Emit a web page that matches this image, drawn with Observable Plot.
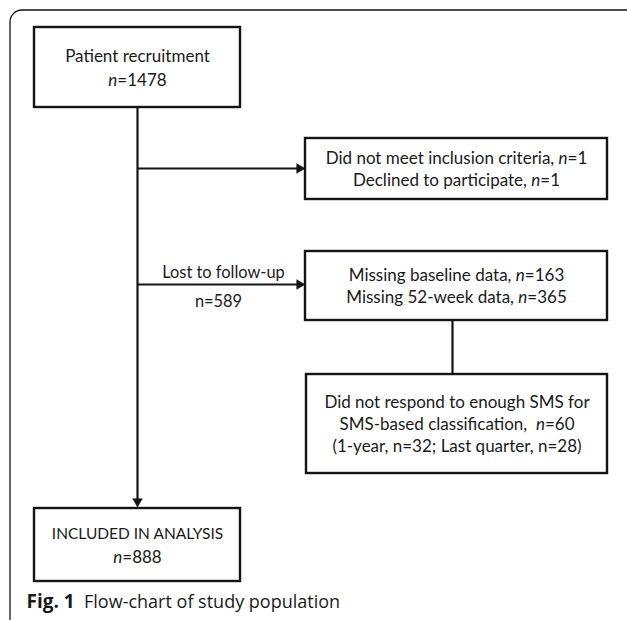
<!DOCTYPE html>
<html>
<head>
<meta charset="utf-8">
<script src="https://cdn.jsdelivr.net/npm/d3@7"></script>
<script src="https://cdn.jsdelivr.net/npm/@observablehq/plot@0.6"></script>
<style>
  html, body { margin: 0; padding: 0; background: #fff; }
  svg text { font-family: Lato, sans-serif; }
</style>
</head>
<body>
<div id="chart"></div>
<script>
// Flow-chart nodes (layout in pixels of the 627x620 figure)
const nodes = [
  {id: "recruit",  x1: 34,  x2: 240, y1: 27,  y2: 107, gap: 24, sizes: [17, 17],       lines: ["Patient recruitment", "*n*=1478"]},
  {id: "excluded", x1: 305, x2: 607, y1: 138, y2: 199, gap: 22, sizes: [17, 17],       lines: ["Did not meet inclusion criteria, *n*=1", "Declined to participate, *n*=1"]},
  {id: "missing",  x1: 305, x2: 607, y1: 251, y2: 320, gap: 22, sizes: [17, 17],       lines: ["Missing baseline data, *n*=163", "Missing 52-week data, *n*=365"]},
  {id: "sms",      x1: 306, x2: 607, y1: 374, y2: 473, gap: 22, sizes: [17, 17, 17],   lines: ["Did not respond to enough SMS for", "SMS-based classification,  *n*=60", "(1-year, n=32; Last quarter, n=28)"]},
  {id: "included", x1: 34,  x2: 240, y1: 508, y2: 581, gap: 24, sizes: [15.5, 17],     lines: ["INCLUDED IN ANALYSIS", "*n*=888"]}
];
// connectors
const edges = [
  {x1: 137, y1: 107, x2: 137, y2: 500, head: "down"},
  {x1: 137, y1: 168, x2: 298, y2: 168, head: "right"},
  {x1: 137, y1: 284, x2: 298, y2: 284, head: "right"},
  {x1: 452, y1: 320, x2: 452, y2: 374, head: null}
];
// edge labels
const edgeLabels = [
  {x: 223, y: 272.5, text: "Lost to follow-up"},
  {x: 218, y: 301, text: "n=589"}
];
const caption = "^Fig. 1^  Flow-chart of study population";

// derived text rows
const textRows = nodes.flatMap(n => {
  const cy = (n.y1 + n.y2) / 2 + 1;
  const k = n.lines.length;
  return n.lines.map((t, i) => ({x: (n.x1 + n.x2) / 2, y: cy + (i - (k - 1) / 2) * n.gap, text: t, size: n.sizes[i]}));
});
const heads = edges.filter(e => e.head).map(e => ({
  x: e.head === "right" ? e.x2 + 1 : e.x2,
  y: e.head === "down" ? e.y2 + 1 : e.y2,
  rot: e.head === "right" ? 90 : 180
}));

const ink = "#141414";
const plot = Plot.plot({
  width: 627, height: 620, margin: 0,
  x: {domain: [0, 627], range: [0, 627], axis: null},
  y: {domain: [0, 620], range: [0, 620], axis: null},
  style: {background: "#fff", overflow: "hidden"},
  marks: [
    // outer frame (only top and left visible, rounded corner)
    Plot.rect([{x1: 10, x2: 700, y1: 10, y2: 700}], {x1: "x1", x2: "x2", y1: "y1", y2: "y2", fill: "none", stroke: ink, strokeWidth: 1.3, rx: 12}),
    Plot.link(edges, {x1: "x1", y1: "y1", x2: "x2", y2: "y2", stroke: ink, strokeWidth: 2.2}),
    Plot.dot(heads, {x: "x", y: "y", symbol: "triangle", r: 3.6, rotate: "rot", fill: ink, stroke: ink, strokeWidth: 0.5}),
    Plot.rect(nodes, {x1: "x1", x2: "x2", y1: "y1", y2: "y2", fill: "#fff", stroke: ink, strokeWidth: 2.4}),
    Plot.text(textRows, {x: "x", y: "y", text: "text", fontSize: d => d.size, fill: "#1a1a1a"}),
    Plot.text(edgeLabels, {x: "x", y: "y", text: "text", fontSize: 16.4, fill: "#1a1a1a"}),
    Plot.text([caption], {x: 26, y: 602, text: d => d, textAnchor: "start", fontSize: 18, fill: "#1a1a1a"})
  ]
});

// Turn *italic* and ^bold^ markup into styled tspans
plot.querySelectorAll("text").forEach(el => {
  const s = el.textContent;
  if (!/[*^]/.test(s)) return;
  const parts = s.split(/(\*[^*]+\*|\^[^^]+\^)/).filter(p => p.length);
  el.textContent = "";
  parts.forEach(p => {
    const ts = document.createElementNS("http://www.w3.org/2000/svg", "tspan");
    if (p[0] === "*") { ts.setAttribute("font-style", "italic"); ts.textContent = p.slice(1, -1); }
    else if (p[0] === "^") { ts.setAttribute("font-weight", "bold"); ts.setAttribute("font-size", "19"); ts.textContent = p.slice(1, -1); }
    else ts.textContent = p;
    el.appendChild(ts);
  });
  el.setAttribute("style", (el.getAttribute("style") || "") + ";white-space:pre");
});
// caption font
const cap = [...plot.querySelectorAll("text")].find(t => t.textContent.startsWith("Fig. 1"));
if (cap) cap.style.fontFamily = "'Open Sans', sans-serif";

document.getElementById("chart").appendChild(plot);
</script>
</body>
</html>
